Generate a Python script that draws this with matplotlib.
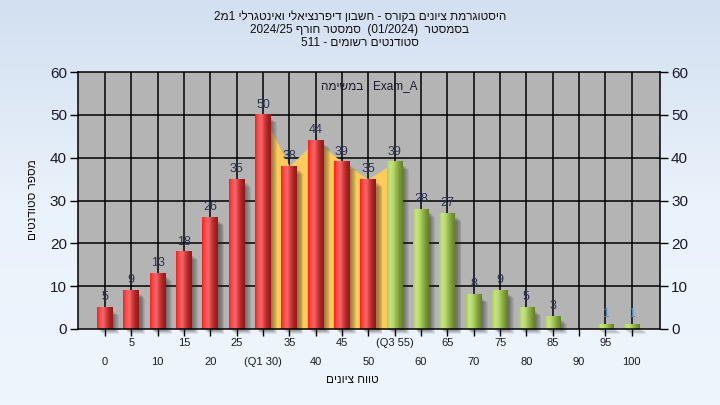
import numpy as np
import matplotlib
matplotlib.use("Agg")
import matplotlib.pyplot as plt
from matplotlib.colors import LinearSegmentedColormap
from matplotlib.patches import Rectangle
from matplotlib.transforms import blended_transform_factory, offset_copy

plt.rcParams['font.family'] = ['Liberation Sans', 'DejaVu Sans']

# data (Hebrew strings are stored in visual order, matplotlib draws left to right)
grades = [0, 5, 10, 15, 20, 25, 30, 35, 40, 45, 50, 55, 60, 65, 70, 75, 80, 85, 90, 95, 100]
students = [5, 9, 13, 18, 26, 35, 50, 38, 44, 39, 35, 39, 28, 27, 8, 9, 5, 3, 0, 1, 1]
q1_grade = 30
q3_grade = 55
tick_labels = ['0', '5', '10', '15', '20', '25', '(Q1 30)', '35', '40', '45', '50', '(Q3 55)',
               '60', '65', '70', '75', '80', '85', '90', '95', '100']
title_lines = ['2מ1 ילרגטניאו ילאיצנרפיד ןובשח - סרוקב םינויצ תמרגוטסיה',
               '2024/25 ףרוח רטסמס  (01/2024)  רטסמסב',
               '511 - םימושר םיטנדוטס']
exam_label = 'המישמב : Exam_A'
y_label = 'םיטנדוטס רפסמ'
x_label = 'םינויצ חווט'

fig = plt.figure(figsize=(7.2, 4.05), dpi=100)

# light blue gradient background
bg = fig.add_axes([0, 0, 1, 1], zorder=-10)
bg_cmap = LinearSegmentedColormap.from_list('bg', ['#d3e0f1', '#eaf2fb', '#eef5fd'])
bg.imshow(np.linspace(0, 1, 100).reshape(-1, 1), cmap=bg_cmap, aspect='auto', extent=[0, 1, 0, 1])
bg.set_axis_off()

ax = fig.add_axes([78 / 720, 1 - 329 / 405, 582 / 720, 257 / 405])
ax.set_facecolor('#b4b4b4')
n = len(grades)
xs = np.arange(n)

# grid
for x in xs:
    ax.axvline(x, color='black', lw=1.1, zorder=1)
for y in range(10, 60, 10):
    ax.axhline(y, color='black', lw=1.1, zorder=1)

# yellow interquartile area
i1 = grades.index(q1_grade)
i3 = grades.index(q3_grade)
ax.fill_between(xs[i1:i3 + 1], 0, students[i1:i3 + 1], color='#fccb5a', zorder=2, lw=0)

red_cmap = LinearSegmentedColormap.from_list('red', ['#ff1c1c', '#ff4e4e', '#f26a6a', '#d43a3a', '#a82424', '#8a1c1c'])
green_cmap = LinearSegmentedColormap.from_list('green', ['#a8d058', '#c6e582', '#b8d870', '#98b84c', '#7a9a38', '#62802a'])
grad = np.linspace(0, 1, 64).reshape(1, -1)

w = 0.6
for x, v, g in zip(xs, students, grades):
    if v <= 0:
        continue
    # soft blurred shadow, several faint layers
    for k in range(6):
        dx = 0.06 + 0.035 * k
        dy = 0.25 + 0.18 * k
        ax.add_patch(Rectangle((x - w / 2 + dx, -dy), w, v - 0.6,
                               color='#202020', alpha=0.09, lw=0, zorder=2.5, clip_on=False))
    cmap = red_cmap if g < q3_grade else green_cmap
    ax.imshow(grad, cmap=cmap, aspect='auto', extent=[x - w / 2, x + w / 2, 0, v], zorder=3)
    lab_col = '#2a3350' if v > 1 else '#4f8fc8'
    ax.text(x, v + 1.0, str(v), ha='center', va='bottom', fontsize=9, color=lab_col, zorder=5)

ax.set_xlim(-1.02, n + 0.07)
ax.set_ylim(0, 60)

for s in ax.spines.values():
    s.set_color('black')
    s.set_linewidth(1.1)
    s.set_zorder(6)

ax.set_xticks(xs)
ax.set_xticklabels([])
ax.tick_params(axis='x', direction='out', length=5, width=1, color='black')
ax.set_yticks(range(0, 61, 10))
ax.tick_params(axis='y', direction='out', length=6, width=1, labelsize=11, labelcolor='#1a1a2a', pad=2)

ax2 = ax.twinx()
ax2.set_ylim(0, 60)
ax2.set_yticks(range(0, 61, 10))
ax2.tick_params(axis='y', direction='out', length=6, width=1, labelsize=11, labelcolor='#1a1a2a', pad=2)
for s in ax2.spines.values():
    s.set_visible(False)

# two rows of category labels
bt = blended_transform_factory(ax.transData, ax.transAxes)
for x, lab in zip(xs, tick_labels):
    dy = -14 if x % 2 == 1 else -33
    ax.text(x, 0, lab, ha='center', va='center', fontsize=8, color='#1a1a2a',
            transform=offset_copy(bt, fig=fig, x=0, y=dy, units='dots'))

ax.text(0.5, 0.945, exam_label, ha='center', va='center', fontsize=8.5, color='#1a1a2a',
        transform=ax.transAxes, zorder=7)

for i, line in enumerate(title_lines):
    fig.text(0.5, 1 - (17 + 13 * i) / 405, line, ha='center', va='center', fontsize=8.5, color='#101010')

fig.text(33 / 720, 1 - 200 / 405, y_label, rotation=90, ha='center', va='center', fontsize=8.5, color='#101010')
fig.text(352 / 720, 1 - 380 / 405, x_label, ha='center', va='center', fontsize=8.5, color='#101010')

fig.savefig('out.png', dpi=100)
